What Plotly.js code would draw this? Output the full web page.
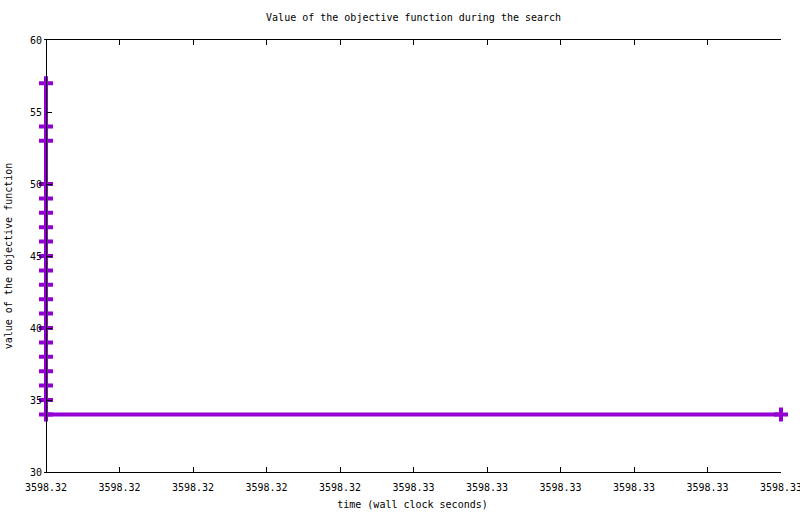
<!DOCTYPE html>
<html>
<head>
<meta charset="utf-8">
<script src="https://cdn.plot.ly/plotly-3.0.1.min.js"></script>
<style>html,body{margin:0;padding:0;background:#fff;}#chart{width:800px;height:514px;}</style>
</head>
<body>
<div id="chart"></div>
<script>
// wall clock time of each evaluation (seconds)
var timeValues = [
  3598.3225, 3598.3225, 3598.3225, 3598.3225, 3598.3225,
  3598.3225, 3598.3225, 3598.3225, 3598.3225, 3598.3225,
  3598.3225, 3598.3225, 3598.3225, 3598.3225, 3598.3225,
  3598.3225, 3598.3225, 3598.3225, 3598.3225, 3598.3225,
  3598.3275
];
// objective function values
var objectiveValues = [
  57, 54, 53, 50, 49, 48, 47, 46, 45, 44,
  43, 42, 41, 40, 39, 38, 37, 36, 35, 34,
  34
];
var xStart = 3598.3225, xEnd = 3598.3275;
var xTickLabels = ["3598.32","3598.32","3598.32","3598.32","3598.32","3598.33","3598.33","3598.33","3598.33","3598.33","3598.33"];
var yTickValues = [30, 35, 40, 45, 50, 55, 60];

var xTickVals = [];
for (var i = 0; i < xTickLabels.length; i++) {
  xTickVals.push(i === xTickLabels.length - 1 ? xEnd : xStart + (xEnd - xStart) * i / (xTickLabels.length - 1));
}

// leave a little room left of the first time so the thick line is not clipped
var plotW = 737, padPx = 2;
var xPad = (xEnd - xStart) * padPx / (plotW - padPx);

var font = {family: "'DejaVu Sans Mono', 'Liberation Mono', monospace", size: 10, color: '#000'};

var trace = {
  x: timeValues,
  y: objectiveValues,
  type: 'scatter',
  mode: 'lines+markers',
  line: {color: '#9400d3', width: 4},
  marker: {symbol: 'cross-thin', size: 10, color: '#9400d3', line: {color: '#9400d3', width: 4}},
  cliponaxis: false,
  hoverinfo: 'none'
};

var layout = {
  width: 800, height: 514,
  margin: {l: 44, r: 19, t: 40, b: 42},
  paper_bgcolor: '#fff', plot_bgcolor: '#fff',
  font: font,
  showlegend: false,
  title: {text: 'Value of the objective function during the search', font: font, x: 0.517, xanchor: 'center', y: 0.965, yanchor: 'middle'},
  xaxis: {
    range: [xStart - xPad, xEnd],
    tickmode: 'array', tickvals: xTickVals, ticktext: xTickLabels,
    ticks: 'inside', ticklen: 5, tickwidth: 1, tickcolor: '#000',
    showline: true, linecolor: '#000', linewidth: 1, mirror: 'ticks',
    showgrid: false, zeroline: false, layer: 'above traces',
    tickfont: font, ticklabeloverflow: 'allow', ticklabelstandoff: 6,
    title: {text: 'time (wall clock seconds)', font: font, standoff: 8}
  },
  yaxis: {
    range: [30, 60],
    anchor: 'free', position: padPx / plotW,
    tickmode: 'array', tickvals: yTickValues,
    ticks: 'inside', ticklen: 5, tickwidth: 1, tickcolor: '#000',
    showline: true, linecolor: '#000', linewidth: 1, mirror: 'ticks',
    showgrid: false, zeroline: false, layer: 'above traces',
    tickfont: font, ticklabelstandoff: 2,
    title: {text: 'value of the objective function', font: font, standoff: 14}
  }
};

Plotly.newPlot('chart', [trace], layout, {displayModeBar: false, staticPlot: true});
</script>
</body>
</html>
